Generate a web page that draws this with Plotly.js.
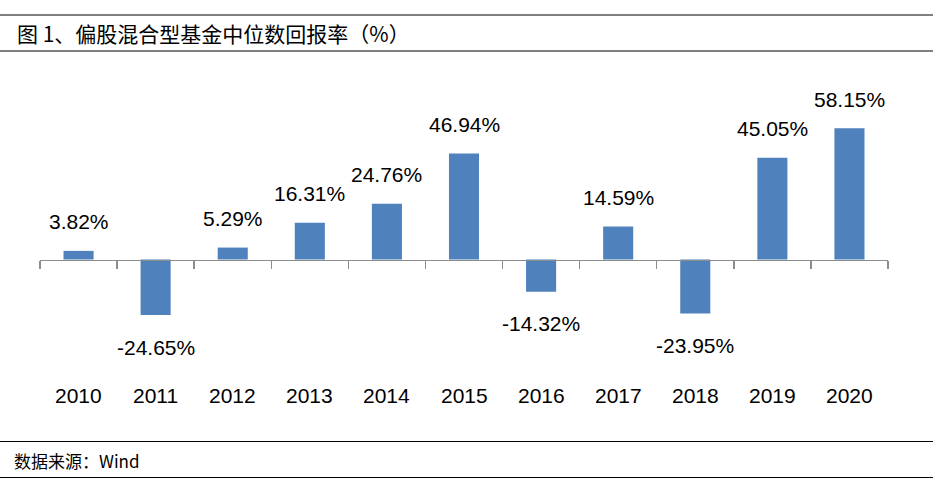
<!DOCTYPE html>
<html>
<head>
<meta charset="utf-8">
<script src="https://cdn.plot.ly/plotly-3.0.1.min.js"></script>
<style>html,body{margin:0;padding:0;background:#fff;}#chart{width:933px;height:487px;}</style>
</head>
<body>
<div id="chart"></div>
<script>
const years = ['2010','2011','2012','2013','2014','2015','2016','2017','2018','2019','2020'];
const returns = [3.82, -24.65, 5.29, 16.31, 24.76, 46.94, -14.32, 14.59, -23.95, 45.05, 58.15];
const chartTitle = '图 1、偏股混合型基金中位数回报率（%）';
const sourceNote = '数据来源：Wind';

const W = 933, H = 487;
const M = {l: 40, r: 45, t: 70, b: 105};
const pw = W - M.l - M.r, ph = H - M.t - M.b;
const px = x => (x - M.l) / pw;
const py = y => (H - M.b - y) / ph;

const yRange = [-54.3, 84.0];
const zeroPos = (0 - yRange[0]) / (yRange[1] - yRange[0]);

const bar = {
  type: 'bar', x: years, y: returns,
  marker: {color: '#4F81BD', line: {width: 0}},
  hoverinfo: 'skip', showlegend: false
};

const labelFont = {family: 'Liberation Sans, Arial, sans-serif', size: 21, color: '#000'};

// category axis: annotation x given as category index
const valueAnns = years.map((yr, i) => ({
  x: i, y: returns[i], xref: 'x', yref: 'y',
  text: returns[i].toFixed(2) + '%', showarrow: false,
  yanchor: 'middle', yshift: returns[i] >= 0 ? 29 : -32,
  font: labelFont
}));

const yearAnns = years.map((yr, i) => ({
  x: i, y: py(395), xref: 'x', yref: 'paper',
  text: yr, showarrow: false, yanchor: 'middle', font: labelFont
}));

const lineShape = y => ({type: 'line', xref: 'paper', yref: 'paper',
  x0: px(0), x1: px(W), y0: py(y), y1: py(y), line: {color: '#000', width: 1}});

const layout = {
  width: W, height: H, margin: M,
  paper_bgcolor: '#fff', plot_bgcolor: '#fff',
  bargap: 0.61,
  xaxis: {
    type: 'category', anchor: 'free', position: zeroPos,
    range: [-0.5, years.length - 0.5],
    showline: true, linecolor: '#8c8c8c', linewidth: 1.5,
    ticks: 'outside', tickson: 'boundaries', ticklen: 8, tickcolor: '#8c8c8c', tickwidth: 1.5,
    showticklabels: false, showgrid: false, zeroline: false, fixedrange: true
  },
  yaxis: {range: yRange, visible: false, showgrid: false, zeroline: false, fixedrange: true},
  shapes: [lineShape(15), lineShape(51), lineShape(441.5), lineShape(477.5)],
  annotations: valueAnns.concat(yearAnns, [
    {xref: 'paper', yref: 'paper', x: px(15), y: py(33), xanchor: 'left', yanchor: 'middle',
     text: chartTitle, showarrow: false,
     font: {family: 'Noto Sans CJK SC, sans-serif', size: 21, color: '#000'}},
    {xref: 'paper', yref: 'paper', x: px(12), y: py(460), xanchor: 'left', yanchor: 'middle',
     text: sourceNote, showarrow: false,
     font: {family: 'Noto Sans CJK SC, sans-serif', size: 17, color: '#000'}}
  ])
};

Plotly.newPlot('chart', [bar], layout, {displayModeBar: false, staticPlot: true});
</script>
</body>
</html>
